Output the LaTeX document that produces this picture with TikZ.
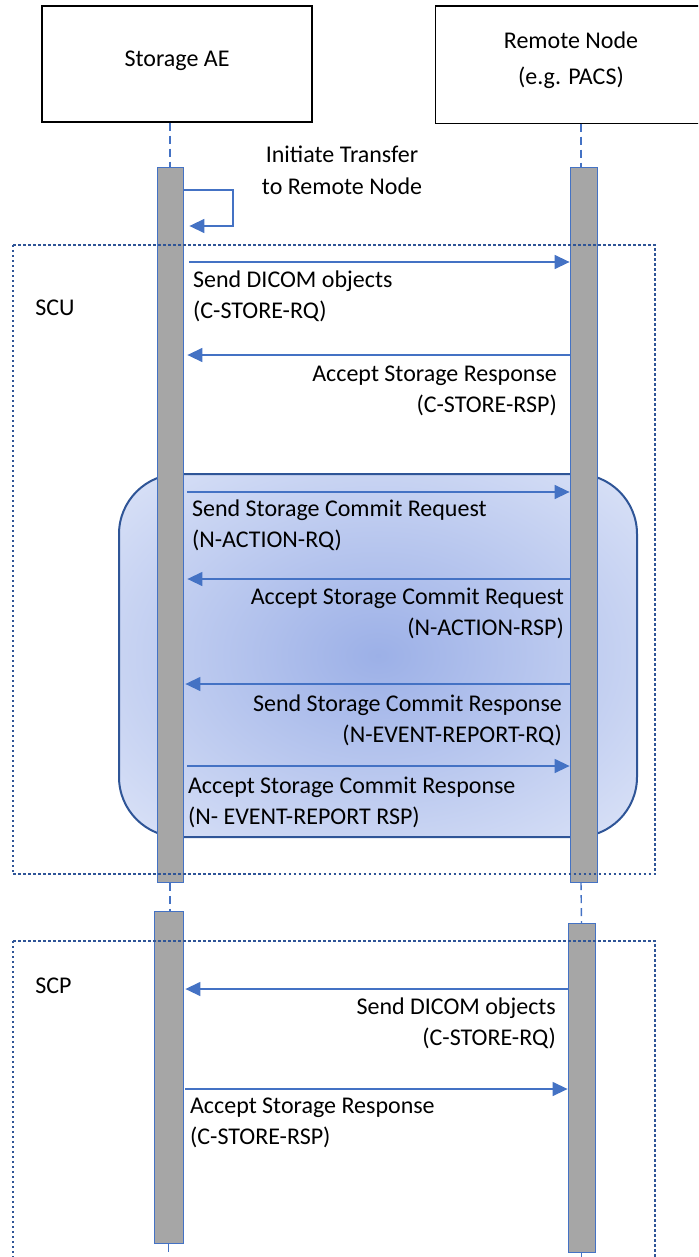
\documentclass[tikz,border=0pt]{standalone}
\usepackage{fontspec}
\setmainfont{Carlito}
\usetikzlibrary{arrows.meta,positioning,calc}
\definecolor{msgblue}{HTML}{4472C4}
\definecolor{frameblue}{HTML}{2F5597}
\definecolor{barfill}{HTML}{A6A6A6}
\definecolor{glowin}{HTML}{9CB0E7}
\definecolor{glowout}{HTML}{DAE2F7}
\pgfdeclareradialshading{commitglow}{\pgfpoint{0bp}{0bp}}{color(0bp)=(glowin); color(35bp)=(glowout); color(50bp)=(glowout)}
\tikzset{
  actor/.style={draw, line width=0.75pt, minimum width=135pt, minimum height=58pt, align=center, inner sep=0pt},
  actbar/.style={draw=msgblue, line width=0.4pt, fill=barfill, minimum width=13pt, inner sep=0pt, anchor=north},
  lifeline/.style={msgblue, line width=0.7pt, dash pattern=on 4pt off 2.5pt},
  msg/.style={msgblue, line width=0.7pt, -{Triangle[length=7.5pt,width=7pt]}},
  msgtext/.style={align=left, inner sep=0pt, text=black},
  rmsgtext/.style={align=right, inner sep=0pt, text=black},
  roleframe/.style={frameblue, line width=1pt, dash pattern=on 1.1pt off 1.4pt},
}

\begin{document}
\begin{tikzpicture}[x=0.5pt, y=-0.5pt, font=\fontsize{12}{15.8}\selectfont]
  \useasboundingbox (0,0) rectangle (698,1257);
  \clip (0,0) rectangle (698,1257);
  % participants
  \node[actor, text depth=5pt] (aebox) at (177,64) {Storage AE};
  \node[actor, draw=none] (rnbox) at (571,65) {};
  \draw[line width=0.75pt] ([xshift=20pt]rnbox.north east) -- (rnbox.north west)
    -- (rnbox.south west) -- ([xshift=20pt]rnbox.south east);
  \node[align=center, inner sep=0pt] (rnlbl) at (571,60) {Remote Node\\[2pt](e.g. PACS)};
  \node[align=center, inner sep=0pt] (initlbl) at (342,170) {Initiate Transfer\\to Remote Node};
  % storage commitment group
  \path[draw=frameblue, line width=1pt, rounded corners=30pt, shading=commitglow] (119,474) rectangle (637,837);
  % activation bars
  \node[actbar, minimum height=357.5pt] (aebar1) at (170,167) {};
  \node[actbar, minimum height=357.5pt, minimum width=13.5pt] (rnbar1) at (583.5,167) {};
  \node[actbar, minimum height=166pt, minimum width=14.5pt] (aebar2) at (168.5,911) {};
  \node[actbar, minimum height=164.5pt, minimum width=13.5pt] (rnbar2) at (581.5,923) {};
  \coordinate (bottom) at (0,1270);
  \draw[lifeline] (aebox.south -| aebar1.north) -- (aebar1.north);
  \draw[lifeline] (rnbox.south -| 581,0) -- (581,167);
  \draw[lifeline] (aebar1.south) -- (aebar1.south |- aebar2.north);
  \draw[lifeline] (581,882) -- (rnbar2.north);
  \draw[lifeline] (aebar2.south) -- (aebar2.south |- bottom);
  \draw[lifeline] (rnbar2.south) -- (rnbar2.south |- bottom);
  % message rows
  \coordinate (s1) at (0,190);  \coordinate (s2) at (233,226);
  \coordinate (m1) at (0,262);  \coordinate (m2) at (0,355);
  \coordinate (m3) at (0,492);  \coordinate (m4) at (0,579);
  \coordinate (m5) at (0,684);  \coordinate (m6) at (0,766);
  \coordinate (m7) at (0,989);  \coordinate (m8) at (0,1089);
  \draw[msg, shorten >=3pt] (aebar1.east |- s1) -| (s2) -- (aebar1.east |- s2);
  \draw[msg, shorten <=3pt] (aebar1.east |- m1) -- (rnbar1.west |- m1)
    node[msgtext, pos=0, below right=4pt and 4.5pt] (l1) {Send DICOM objects\\(C-STORE-RQ)};
  \draw[msg, shorten >=2pt] (rnbar1.west |- m2) -- (aebar1.east |- m2)
    node[rmsgtext, pos=0, below left=5pt and 6pt] (l2) {Accept Storage Response\\(C-STORE-RSP)};
  \draw[msg, shorten <=2pt] (aebar1.east |- m3) -- (rnbar1.west |- m3)
    node[msgtext, pos=0, below right=3.5pt and 4pt] (l3) {Send Storage Commit Request\\(N-ACTION-RQ)};
  \draw[msg, shorten >=2pt] (rnbar1.west |- m4) -- (aebar1.east |- m4)
    node[rmsgtext, pos=0, below left=4pt and 2.5pt] (l4) {Accept Storage Commit Request\\(N-ACTION-RSP)};
  \draw[msg, shorten >=1pt] (rnbar1.west |- m5) -- (aebar1.east |- m5)
    node[rmsgtext, pos=0, below left=5pt and 3.5pt] (l5) {Send Storage Commit Response\\(N-EVENT-REPORT-RQ)};
  \draw[msg, shorten <=2pt] (aebar1.east |- m6) -- (rnbar1.west |- m6)
    node[msgtext, pos=0, below right=5pt and 2pt] (l6) {Accept Storage Commit Response\\(N- EVENT-REPORT RSP)};
  \draw[msg, shorten >=1pt] (rnbar2.west |- m7) -- (aebar2.east |- m7)
    node[rmsgtext, pos=0, below left=4pt and 5.5pt] (l7) {Send DICOM objects\\(C-STORE-RQ)};
  \draw[msg, shorten <=1pt] (aebar2.east |- m8) -- (rnbar2.west |- m8)
    node[msgtext, pos=0, below right=4pt and 3pt] (l8) {Accept Storage Response\\(C-STORE-RSP)};
  % role frames
  \draw[roleframe] (12.5,245) rectangle (655,874);
  \draw[roleframe] (12.5,941) rectangle (655,1300);
  \node[anchor=west, inner sep=0pt] (sculbl) at (35,308) {SCU};
  \node[anchor=west, inner sep=0pt] (scplbl) at (35,986) {SCP};
\end{tikzpicture}
\end{document}
